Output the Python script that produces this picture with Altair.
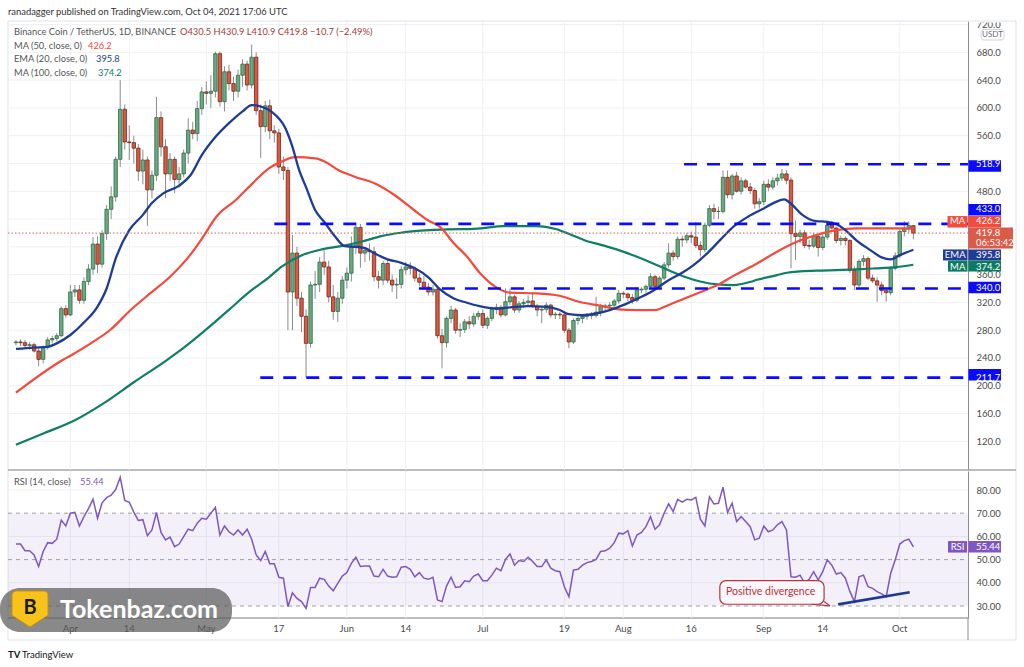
import altair as alt
import pandas as pd

# ------------------------------------------------------------------ data
# Binance Coin / TetherUS daily candles, day 0 = 2021-03-20 ... day 198 = 2021-10-04
OPEN = [262, 263, 262, 258, 259, 250, 238, 256, 266, 268,
        272, 311, 302, 335, 338, 323, 350, 368, 404, 375,
        419, 454, 472, 526, 598, 551, 550, 542, 509, 525,
        482, 503, 586, 544, 505, 526, 497, 505, 535, 568,
        563, 599, 623, 621, 624, 678, 609, 652, 635, 624,
        647, 663, 633, 673, 596, 573, 603, 567, 564, 515,
        510, 335, 391, 326, 300, 261, 345, 346, 378, 371,
        328, 307, 326, 352, 362, 401, 428, 391, 395, 393,
        357, 352, 376, 352, 345, 346, 367, 371, 369, 355,
        349, 342, 335, 339, 272, 262, 297, 309, 280, 281,
        292, 289, 300, 304, 287, 297, 310, 313, 302, 321,
        328, 309, 318, 320, 322, 314, 309, 310, 316, 302,
        303, 302, 280, 263, 294, 297, 300, 302, 301, 306,
        314, 315, 316, 322, 333, 332, 327, 323, 338, 339,
        343, 357, 343, 355, 374, 391, 386, 411, 410, 416,
        414, 402, 396, 431, 455, 451, 451, 500, 475, 502,
        480, 495, 486, 481, 462, 465, 490, 486, 495, 499,
        505, 496, 419, 415, 420, 402, 401, 415, 399, 414,
        431, 427, 409, 412, 409, 366, 345, 379, 383, 355,
        351, 345, 337, 334, 369, 387, 422, 427, 430.5]
HIGH = [266, 267, 266, 263, 262, 254, 258, 270, 272, 276,
        314, 316, 345, 345, 345, 356, 375, 414, 415, 424,
        460, 487, 530, 640, 605, 575, 560, 548, 540, 530,
        510, 616, 595, 555, 535, 530, 515, 540, 585, 580,
        610, 630, 638, 647, 681, 681, 660, 662, 645, 655,
        670, 668, 691, 680, 605, 610, 612, 575, 570, 530,
        515, 417, 400, 335, 310, 350, 365, 385, 395, 380,
        345, 335, 358, 370, 415, 432, 433, 400, 405, 400,
        365, 380, 382, 360, 355, 372, 378, 378, 372, 362,
        358, 348, 345, 342, 282, 300, 315, 312, 290, 296,
        300, 305, 308, 310, 300, 314, 318, 316, 340, 340,
        331, 322, 325, 330, 335, 318, 314, 320, 318, 306,
        306, 304, 283, 297, 300, 303, 304, 306, 328, 318,
        318, 320, 325, 338, 336, 334, 332, 342, 342, 346,
        362, 360, 358, 378, 405, 395, 415, 416, 420, 422,
        436, 408, 435, 460, 462, 458, 510, 510, 505, 508,
        500, 498, 492, 485, 470, 495, 497, 500, 505, 512,
        510, 500, 438, 425, 424, 410, 420, 418, 418, 434,
        437, 429, 416, 415, 411, 372, 382, 388, 386, 360,
        356, 350, 342, 372, 392, 425, 437, 437, 430.9]
LOW = [258, 257, 255, 252, 248, 228, 232, 252, 261, 264,
       270, 298, 300, 328, 318, 318, 345, 360, 362, 370,
       410, 440, 465, 515, 540, 525, 520, 495, 490, 430,
       470, 495, 530, 470, 495, 477, 485, 500, 520, 555,
       552, 590, 605, 600, 615, 602, 595, 625, 610, 615,
       630, 625, 628, 590, 528, 565, 555, 550, 505, 496,
       280, 280, 315, 277, 212, 255, 325, 335, 360, 320,
       295, 292, 318, 340, 350, 390, 370, 378, 380, 350,
       340, 345, 348, 335, 325, 340, 360, 360, 350, 343,
       338, 330, 330, 268, 225, 255, 290, 275, 270, 276,
       282, 285, 295, 283, 282, 293, 303, 298, 300, 316,
       305, 305, 312, 314, 312, 300, 290, 305, 298, 296,
       296, 276, 254, 260, 288, 290, 295, 296, 298, 300,
       308, 310, 312, 318, 326, 322, 318, 320, 333, 334,
       340, 338, 340, 352, 370, 380, 382, 400, 405, 405,
       398, 386, 392, 428, 440, 440, 448, 470, 468, 478,
       475, 484, 476, 455, 455, 460, 480, 482, 488, 495,
       490, 369, 381, 405, 398, 396, 398, 386, 395, 410,
       425, 405, 402, 402, 362, 338, 342, 372, 352, 348,
       321, 330, 321, 330, 366, 384, 415, 420, 410.9]
CLOSE = [263, 262, 258, 259, 250, 238, 256, 266, 268, 272,
         311, 302, 335, 338, 323, 350, 368, 404, 375, 419,
         454, 472, 526, 598, 551, 550, 542, 509, 525, 482,
         503, 586, 544, 505, 526, 497, 505, 535, 568, 563,
         599, 623, 621, 624, 678, 609, 652, 635, 624, 647,
         663, 633, 673, 596, 573, 603, 567, 564, 515, 510,
         335, 391, 326, 300, 261, 345, 346, 378, 371, 328,
         307, 326, 352, 362, 401, 428, 391, 395, 393, 357,
         352, 376, 352, 345, 346, 367, 371, 369, 355, 349,
         342, 335, 339, 272, 262, 297, 309, 280, 281, 292,
         289, 300, 304, 287, 297, 310, 313, 302, 321, 328,
         309, 318, 320, 322, 314, 309, 310, 316, 302, 303,
         302, 280, 263, 294, 297, 300, 302, 301, 306, 314,
         315, 316, 322, 333, 332, 327, 323, 338, 339, 343,
         357, 343, 355, 374, 391, 386, 411, 410, 416, 414,
         402, 396, 431, 455, 451, 451, 500, 475, 502, 480,
         495, 486, 481, 462, 465, 490, 486, 495, 499, 505,
         496, 419, 415, 420, 402, 401, 415, 399, 414, 431,
         427, 409, 412, 409, 366, 345, 379, 383, 355, 351,
         345, 337, 334, 369, 387, 422, 427, 430.5, 419.8]

# moving-average curves, sampled along the chart (day index, value)
EMA20_DAY = [0, 4, 7, 9, 12, 15, 18, 20, 22, 25, 28, 30, 32.5, 36, 38.5, 41, 44, 47,
             50, 52, 54, 56.5, 59.5, 61, 62.5, 64, 66, 68, 70.5, 72.5, 75, 77, 79, 82,
             85, 88, 91, 93.5, 96.5, 99.5, 102, 106, 110, 113, 117, 120, 122, 125, 128,
             131, 134.5, 138, 141, 144, 147, 149.5, 152.5, 155.5, 158.5, 161.5, 165,
             167, 169.5, 171, 173.5, 176.5, 179, 181, 183, 185.5, 188.5, 191, 193, 195, 198]
EMA20_VAL = [253, 255, 256, 261, 273, 291, 314, 340, 383, 424, 446, 463, 477, 488, 503,
             532, 558, 578, 595, 604, 602, 594, 570, 544, 510, 486, 453, 436, 414, 401,
             400, 398, 391, 382, 377, 369, 356, 339, 326, 319.5, 315, 311, 313.5, 314.5,
             313.5, 309, 303, 301.5, 304, 309, 317.5, 328, 338.7, 352, 362.7, 373.7,
             390.5, 410.7, 430, 443.3, 455.3, 462.5, 468.3, 462, 446, 437, 436, 432.8,
             424, 409, 395.3, 384.8, 381.9, 388, 395.8]
MA50_DAY = [0, 10.3, 12.2, 16.5, 20.9, 25.3, 29.6, 34, 38.4, 41.3, 44.2, 48.5, 52.2,
            55.8, 58.7, 61.6, 66, 68.2, 71.1, 74.7, 79.1, 83.5, 87.8, 90.8, 93.7, 96.6,
            99.5, 102.4, 106, 109, 114.8, 119.9, 124.2, 129.3, 133, 136.6, 141, 143.9,
            147.5, 151.2, 154.8, 158.4, 163.5, 167.9, 172.3, 176.6, 181, 185.4, 189.7,
            194.1, 198]
MA50_VAL = [190, 237, 244, 261, 281, 309, 333, 357, 388, 414.5, 443.3, 467.4, 491.4,
            513, 523, 529, 527.4, 522.5, 510.5, 501, 491.4, 474.6, 453, 438.6, 428, 405,
            386, 362, 341.6, 334, 333, 329.6, 321, 314.7, 309.9, 309, 309, 316, 325.7,
            335.3, 344.9, 358.5, 376, 393, 407.3, 417, 424, 426.5, 426.5, 426.5, 426.2]
MA100_DAY = [0, 6.3, 12.9, 19.4, 26, 33.3, 36.9, 42.7, 47.1, 51.5, 55.8, 58.7, 63.1,
             67.5, 71.8, 76.2, 80.6, 84.9, 89.3, 95.1, 100.2, 102.4, 107.5, 114.8, 119.1,
             122.1, 125.7, 129.3, 133, 136.6, 140.2, 143.9, 147.5, 151.2, 154.8, 158.4,
             162.1, 163.5, 167.9, 170.1, 176.6, 181, 185.4, 189.7, 193.5, 198]
MA100_VAL = [115, 132, 150, 175, 205, 237, 254, 285, 310, 335, 356, 372, 388, 396.4,
             401.1, 407.3, 415.5, 420.3, 423.2, 425.2, 425.6, 426.6, 429.9, 429.9, 425.6,
             418.4, 408.8, 402.5, 395.3, 386.7, 377.1, 366.5, 357, 349.7, 345.9, 344.9,
             349.7, 352.5, 359.3, 362.7, 365.6, 366.5, 367.5, 369, 370.4, 374.2]

# RSI(14) for every candle
RSI = [56.7, 56.7, 53.8, 53.8, 52, 47, 53.5, 57.3, 57, 58.8,
       67, 64.5, 70, 70.4, 64.5, 68.5, 72, 76, 67.8, 74.5,
       76.7, 77.8, 80.2, 85.5, 75.5, 74.7, 70.5, 66.9, 67.2, 60.3,
       62.8, 70.3, 61.7, 58.5, 59.7, 55.6, 56.7, 59.9, 63.1, 62.5,
       65.7, 67.8, 67.4, 70, 72.5, 60.6, 64.5, 62, 60.6, 62.8,
       60.6, 63.1, 58.8, 52, 49.6, 53.5, 48.2, 48.2, 42.4, 42,
       29.7, 35.7, 33.3, 31.9, 29, 38, 38, 42, 41.5, 38.6,
       36.6, 39.8, 42.9, 44.4, 48.4, 51, 47, 47.2, 47.2, 42.9,
       42.6, 45.8, 42.9, 42.4, 42.6, 46.7, 47, 45.8, 42.6, 44.4,
       42, 41.5, 42.4, 32.6, 31.9, 38.6, 42.4, 38, 38.3, 40.9,
       40.5, 42.9, 43.8, 40.9, 40.9, 43.3, 46.3, 45.2, 50.1, 52.4,
       47.6, 49.6, 49.2, 51, 49.2, 47, 47, 49.9, 46.3, 45.2,
       44.8, 38.3, 34, 45.5, 45.8, 47.6, 48.7, 49.2, 50.1, 53.5,
       53.8, 54.9, 57.3, 61.4, 61.1, 62.5, 55.9, 60.6, 61.7, 64.2,
       68.5, 63.1, 65, 70, 74, 70.7, 76, 74.8, 76, 75.7,
       76.8, 67.4, 64.5, 77.1, 74, 74.3, 81.2, 70.3, 74.3, 66.4,
       68.5, 66.4, 64.2, 58.5, 59.2, 64.5, 62, 62.8, 65, 66.4,
       62.8, 42.6, 42.4, 43.3, 40, 41.5, 44.8, 41.2, 44.8, 49.9,
       47.6, 43.8, 44.4, 42, 36.2, 31.9, 42.6, 43.3, 38.3, 37.6,
       36.2, 35.2, 34, 44.1, 49.9, 56.7, 58.2, 58.8, 55.44]

# horizontal levels drawn on the price pane, and the day each one starts
LEVEL_PRICE = [518.9, 433.0, 340.0, 211.7]
LEVEL_FROM_DAY = [147.4, 57.0, 88.9, 53.9]

# divergence trend line on the RSI pane
TREND_DAY = [181.4, 197.2]
TREND_RSI = [30.7, 35.9]

PRICE_GRID = [120, 160, 200, 240, 280, 320, 360, 400, 440, 480, 520, 560, 600, 640, 680, 720]
PRICE_TICKS = [120, 160, 200, 240, 280, 320, 360, 480, 560, 600, 640, 680, 720]
RSI_TICKS = [30, 40, 50, 60, 70, 80]
DATE_TICK_DAY = [12, 25, 42, 58, 73, 86, 103, 121, 134, 149, 165, 178, 195]
DATE_TICK_TEXT = ["Apr", "14", "May", "17", "Jun", "14", "Jul", "19", "Aug", "16", "Sep", "14", "Oct"]

LAST_CLOSE = CLOSE[-1]
LAST_MA50 = MA50_VAL[-1]
LAST_EMA20 = EMA20_VAL[-1]
LAST_MA100 = MA100_VAL[-1]
LAST_RSI = RSI[-1]

# ------------------------------------------------------------------ layout / style
W, H = 1024, 667
X0, X1 = 8, 968
PRICE_TOP, PRICE_BOT = 21, 470
RSI_TOP, RSI_BOT = 471, 618
FRAME_R, FRAME_B = 1016, 640

FONT = "Lato"
GRID = "#eef0f4"
FRAME = "#e0e3eb"
AXIS_LINE = "#8a8d96"
LABEL = "#4a4a4a"
GREEN_FILL, GREEN_EDGE = "#6aaa82", "#2e6b44"
RED_FILL, RED_EDGE = "#dd5840", "#6e271b"
WICK = "#8c8c8c"
EMA_C, MA50_C, MA100_C = "#1c3c98", "#f5493b", "#0e7e65"
LEVEL_C = "#0a0aff"
RSI_C = "#7e57c2"

xs = alt.Scale(domain=[-0.655, 208.95], range=[X0, X1], nice=False, zero=False)
ps = alt.Scale(domain=[78.7, 725.1], range=[PRICE_BOT, PRICE_TOP], nice=False, zero=False)
rs = alt.Scale(domain=[24.83, 88.19], range=[RSI_BOT, RSI_TOP], nice=False, zero=False)


def X(field):
    return alt.X(f"{field}:Q", scale=xs, axis=None)


def PY(field, axis=None):
    return alt.Y(f"{field}:Q", scale=ps, axis=axis)


def RY(field, axis=None):
    return alt.Y(f"{field}:Q", scale=rs, axis=axis)


one = pd.DataFrame({"k": [0]})

candles = pd.DataFrame({"n": list(range(len(OPEN))), "open": OPEN, "high": HIGH,
                        "low": LOW, "close": CLOSE})
candles["dir"] = ["up" if c >= o else "down" for o, c in zip(OPEN, CLOSE)]

price_axis = alt.Axis(orient="right", offset=X1 - W, values=PRICE_TICKS, format=".1f",
                      title=None, grid=False, tickSize=0, domain=True, domainColor=AXIS_LINE,
                      labelFont=FONT, labelFontSize=9.5, labelColor=LABEL, labelPadding=8,
                      labelOverlap=False, labelFlush=False, labelAlign="left", zindex=0)
rsi_axis = alt.Axis(orient="right", offset=X1 - W, values=RSI_TICKS, format=".2f",
                    title=None, grid=False, tickSize=0, domain=True, domainColor=AXIS_LINE,
                    labelFont=FONT, labelFontSize=9.5, labelColor=LABEL, labelPadding=8,
                    labelOverlap=False, labelFlush=False, labelAlign="left", zindex=0)

layers = []

# frame of the whole chart
FRAME_SEGMENTS = [
    (X0, FRAME_R, PRICE_TOP, PRICE_TOP, FRAME, 1),
    (X0, X0, PRICE_TOP, FRAME_B, FRAME, 1),
    (FRAME_R, FRAME_R, PRICE_TOP, FRAME_B, FRAME, 1),
    (X0, FRAME_R, FRAME_B, FRAME_B, FRAME, 1),
    (X0, FRAME_R, PRICE_BOT, PRICE_BOT, "#a3a6af", 1.4),
    (X0, X1, RSI_BOT, RSI_BOT, "#787b86", 1.2),
    (X1, X1, RSI_BOT, FRAME_B, AXIS_LINE, 1),
]
for x_a, x_b, y_a, y_b, col, w in FRAME_SEGMENTS:
    layers.append(alt.Chart(one).mark_rule(color=col, strokeWidth=w).encode(
        x=alt.value(x_a), x2=alt.value(x_b), y=alt.value(y_a), y2=alt.value(y_b)))

# price grid + price axis
layers.append(alt.Chart(pd.DataFrame({"v": PRICE_GRID})).mark_rule(color=GRID).encode(
    y=PY("v"), x=alt.value(X0), x2=alt.value(X1)))
layers.append(alt.Chart(pd.DataFrame({"v": PRICE_TICKS})).mark_rule(opacity=0).encode(
    y=PY("v", price_axis), x=alt.value(X1), x2=alt.value(X1)))
# date grid on both panes
ticks_df = pd.DataFrame({"n": DATE_TICK_DAY, "t": DATE_TICK_TEXT})
layers.append(alt.Chart(ticks_df).mark_rule(color=GRID).encode(
    x=X("n"), y=alt.value(PRICE_TOP), y2=alt.value(PRICE_BOT)))
layers.append(alt.Chart(ticks_df).mark_rule(color=GRID).encode(
    x=X("n"), y=alt.value(RSI_TOP), y2=alt.value(RSI_BOT)))
# date labels of the time scale
layers.append(alt.Chart(ticks_df).mark_text(font=FONT, fontSize=9.5, color=LABEL, align="center",
                                            baseline="middle").encode(
    x=X("n"), y=alt.value(629), text="t:N"))
# RSI grid + band + axis
layers.append(alt.Chart(pd.DataFrame({"v": [40, 60, 80]})).mark_rule(color=GRID).encode(
    y=RY("v"), x=alt.value(X0), x2=alt.value(X1)))
layers.append(alt.Chart(pd.DataFrame({"lo": [30], "hi": [70]})).mark_rect(color=RSI_C, opacity=0.09).encode(
    y=RY("lo", rsi_axis), y2=alt.Y2("hi"), x=alt.value(X0), x2=alt.value(X1)))
layers.append(alt.Chart(pd.DataFrame({"v": [30, 50, 70]})).mark_rule(
    color="#9e9ea6", strokeDash=[4, 4], strokeWidth=1).encode(
    y=RY("v"), x=alt.value(X0), x2=alt.value(X1)))

# candles
color_scale = alt.Scale(domain=["up", "down"], range=[GREEN_FILL, RED_FILL])
edge_scale = alt.Scale(domain=["up", "down"], range=[GREEN_EDGE, RED_EDGE])
layers.append(alt.Chart(candles).mark_rule(color=WICK, strokeWidth=1).encode(
    x=X("n"), y=PY("low"), y2=alt.Y2("high")))
layers.append(alt.Chart(candles).mark_bar(size=3.4, strokeWidth=0.8).encode(
    x=X("n"), y=PY("open"), y2=alt.Y2("close"),
    fill=alt.Fill("dir:N", scale=color_scale, legend=None),
    stroke=alt.Stroke("dir:N", scale=edge_scale, legend=None)))

# moving averages
for days, vals, col, w in [(MA100_DAY, MA100_VAL, MA100_C, 2.2), (MA50_DAY, MA50_VAL, MA50_C, 2.2),
                           (EMA20_DAY, EMA20_VAL, EMA_C, 2.3)]:
    layers.append(alt.Chart(pd.DataFrame({"n": days, "v": vals})).mark_line(
        color=col, strokeWidth=w, interpolate="monotone").encode(x=X("n"), y=PY("v")))

# last price dotted line
layers.append(alt.Chart(pd.DataFrame({"v": [LAST_CLOSE]})).mark_rule(
    color="#e0604e", strokeDash=[1.5, 2], strokeWidth=1).encode(
    y=PY("v"), x=alt.value(X0), x2=alt.value(X1)))

# horizontal levels
layers.append(alt.Chart(pd.DataFrame({"v": LEVEL_PRICE, "n": LEVEL_FROM_DAY})).mark_rule(
    color=LEVEL_C, strokeDash=[13, 10], strokeWidth=2.6).encode(
    y=PY("v"), x=X("n"), x2=alt.value(X1)))

# RSI line
layers.append(alt.Chart(pd.DataFrame({"n": list(range(len(RSI))), "v": RSI})).mark_line(
    color=RSI_C, strokeWidth=1.5).encode(x=X("n"), y=RY("v")))

# divergence callout
layers.append(alt.Chart(pd.DataFrame({"a": [155.3], "b": [178.3], "lo": [30.75], "hi": [40.9]})).mark_rect(
    fill="#fbf7fa", stroke="#b5363f", strokeWidth=1.2, cornerRadius=6).encode(
    x=X("a"), x2=alt.X2("b"), y=RY("lo"), y2=alt.Y2("hi")))
layers.append(alt.Chart(pd.DataFrame({"a": [175.6, 179.6], "b": [179.6, 178.3],
                                      "lo": [30.75, 30.05], "hi": [30.05, 31.9]})).mark_rule(
    color="#b5363f", strokeWidth=1.2).encode(x=X("a"), x2=alt.X2("b"), y=RY("lo"), y2=alt.Y2("hi")))
layers.append(alt.Chart(pd.DataFrame({"n": [166.5], "v": [35.9], "t": ["Positive divergence"]})).mark_text(
    font=FONT, fontSize=10.5, color="#b5333b", align="center", baseline="middle").encode(
    x=X("n"), y=RY("v"), text="t:N"))
layers.append(alt.Chart(pd.DataFrame({"a": [TREND_DAY[0]], "b": [TREND_DAY[1]],
                                      "lo": [TREND_RSI[0]], "hi": [TREND_RSI[1]]})).mark_rule(
    color="#1f3a93", strokeWidth=2.6).encode(x=X("a"), x2=alt.X2("b"), y=RY("lo"), y2=alt.Y2("hi")))


# value boxes on the price scale
def box(scale_y, value, fill, x0, x1, h, shift, text=None, fmt=".1f", text_x=976, dy=0, fsize=9.5,
        align="left"):
    df = pd.DataFrame({"v": [value]})
    out = [alt.Chart(df).mark_bar(orient="horizontal", size=h, color=fill, yOffset=shift).encode(
        x=alt.value(x0), x2=alt.value(x1), y=scale_y("v"))]
    enc_text = alt.value(text) if text is not None else alt.Text("v:Q", format=fmt)
    out.append(alt.Chart(df).mark_text(font=FONT, fontSize=fsize, color="white", align=align,
                                       baseline="middle", dy=shift + dy).encode(
        x=alt.value(text_x), y=scale_y("v"), text=enc_text))
    return out


for lv in LEVEL_PRICE:
    layers += box(PY, lv, LEVEL_C, 968.5, 1001, 11.5, -14.6 if lv == 433.0 else 0)
layers += box(PY, LAST_MA50, "#f44b3e", 968.5, 1001, 11.5, -7.2)
layers += box(PY, LAST_MA50, "#f44b3e", 947.5, 967.5, 11.5, -7.2, text="MA", text_x=957.5, align="center")
layers += box(PY, LAST_CLOSE, "#dc5b48", 968.5, 1013, 21, 4.6, dy=-4.6)
layers.append(alt.Chart(pd.DataFrame({"v": [LAST_CLOSE]})).mark_text(
    font=FONT, fontSize=9.5, color="white", align="left", baseline="middle", dy=10.3).encode(
    x=alt.value(976), y=PY("v"), text=alt.value("06:53:42")))
layers += box(PY, LAST_EMA20, "#213c94", 968.5, 1001, 11, 5.3)
layers += box(PY, LAST_EMA20, "#213c94", 943, 967.5, 11, 5.3, text="EMA", text_x=955.2, align="center")
layers += box(PY, LAST_MA100, "#0b7b61", 968.5, 1001, 11, 1.8)
layers += box(PY, LAST_MA100, "#0b7b61", 948, 967.5, 11, 1.8, text="MA", text_x=957.7, align="center")
layers += box(RY, LAST_RSI, RSI_C, 968.5, 1001, 11.5, 0, fmt=".2f")
layers += box(RY, LAST_RSI, RSI_C, 948, 967, 11.5, 0, text="RSI", text_x=957.5, align="center")

# cover above the pane + currency tag
layers.append(alt.Chart(one).mark_rect(color="white").encode(
    x=alt.value(969), x2=alt.value(FRAME_R - 1), y=alt.value(0), y2=alt.value(PRICE_TOP + 1.5)))
layers.append(alt.Chart(one).mark_rule(color=FRAME).encode(
    x=alt.value(X1), x2=alt.value(FRAME_R), y=alt.value(PRICE_TOP), y2=alt.value(PRICE_TOP)))
layers.append(alt.Chart(one).mark_rect(fill="white", stroke="#d1d4dc", cornerRadius=3).encode(
    x=alt.value(981), x2=alt.value(1004), y=alt.value(29.5), y2=alt.value(40)))
layers.append(alt.Chart(one).mark_text(font=FONT, fontSize=8, color="#6a6d78", align="center",
                                       baseline="middle").encode(
    x=alt.value(992.5), y=alt.value(34.9), text=alt.value("USDT")))


def txt(x, y, s, color="#555555", size=9.3, weight="normal", align="left"):
    return alt.Chart(one).mark_text(font=FONT, fontSize=size, color=color, fontWeight=weight,
                                    align=align, baseline="middle").encode(
        x=alt.value(x), y=alt.value(y), text=alt.value(s))


# header and legends
layers.append(txt(8, 11.5, "ranadagger published on TradingView.com, Oct 04, 2021 17:06 UTC", "#333333", 9.4))
layers.append(txt(14, 32, "Binance Coin / TetherUS, 1D, BINANCE"))
layers.append(txt(180, 32, f"O{OPEN[-1]:.1f} H{HIGH[-1]:.1f} L{LOW[-1]:.1f} C{CLOSE[-1]:.1f} "
                  f"\u2212{OPEN[-1] - CLOSE[-1]:.1f} (\u2212{(OPEN[-1] - CLOSE[-1]) / OPEN[-1] * 100:.2f}%)",
                  "#a13d32"))
layers.append(txt(14, 45.5, "MA (50, close, 0)"))
layers.append(txt(88, 45.5, f"{LAST_MA50:.1f}", MA50_C))
layers.append(txt(14, 59, "EMA (20, close, 0)"))
layers.append(txt(96, 59, f"{LAST_EMA20:.1f}", EMA_C))
layers.append(txt(14, 72.5, "MA (100, close, 0)"))
layers.append(txt(98, 72.5, f"{LAST_MA100:.1f}", MA100_C))
layers.append(txt(14, 482, "RSI (14, close)"))
layers.append(txt(80, 482, f"{LAST_RSI:.2f}", RSI_C))

# watermark (translucent, the time labels show through it)
layers.append(alt.Chart(one).mark_rect(color="#5c5c5c", opacity=0.72, cornerRadius=20).encode(
    x=alt.value(0), x2=alt.value(232), y=alt.value(588), y2=alt.value(632)))
layers.append(alt.Chart(one).mark_point(
    shape="M-0.75,-1 L0.75,-1 Q1,-1 1,-0.75 L1,0.35 L0,1 L-1,0.35 L-1,-0.75 Q-1,-1 -0.75,-1 Z",
    filled=True, fill="#f7c31a", stroke="#c98f0a", strokeWidth=1, opacity=1, size=1300).encode(
    x=alt.value(30), y=alt.value(609)))
layers.append(txt(30, 608, "B", "#1a1a1a", 20, "bold", "center"))
layers.append(txt(60, 610, "Tokenbaz.com", "white", 25, "bold"))

# footer
layers.append(txt(8, 655, "TV", "#131722", 9.5, "bold"))
layers.append(txt(22, 655, "TradingView", "#131722", 9.5))

chart = alt.layer(*layers).resolve_scale(y="independent").properties(
    width=W, height=H, autosize=alt.AutoSizeParams(type="none"), padding=0,
    background="white").configure_view(stroke=None)

chart.save("out.html", embed_options={"renderer": "svg", "actions": False})
